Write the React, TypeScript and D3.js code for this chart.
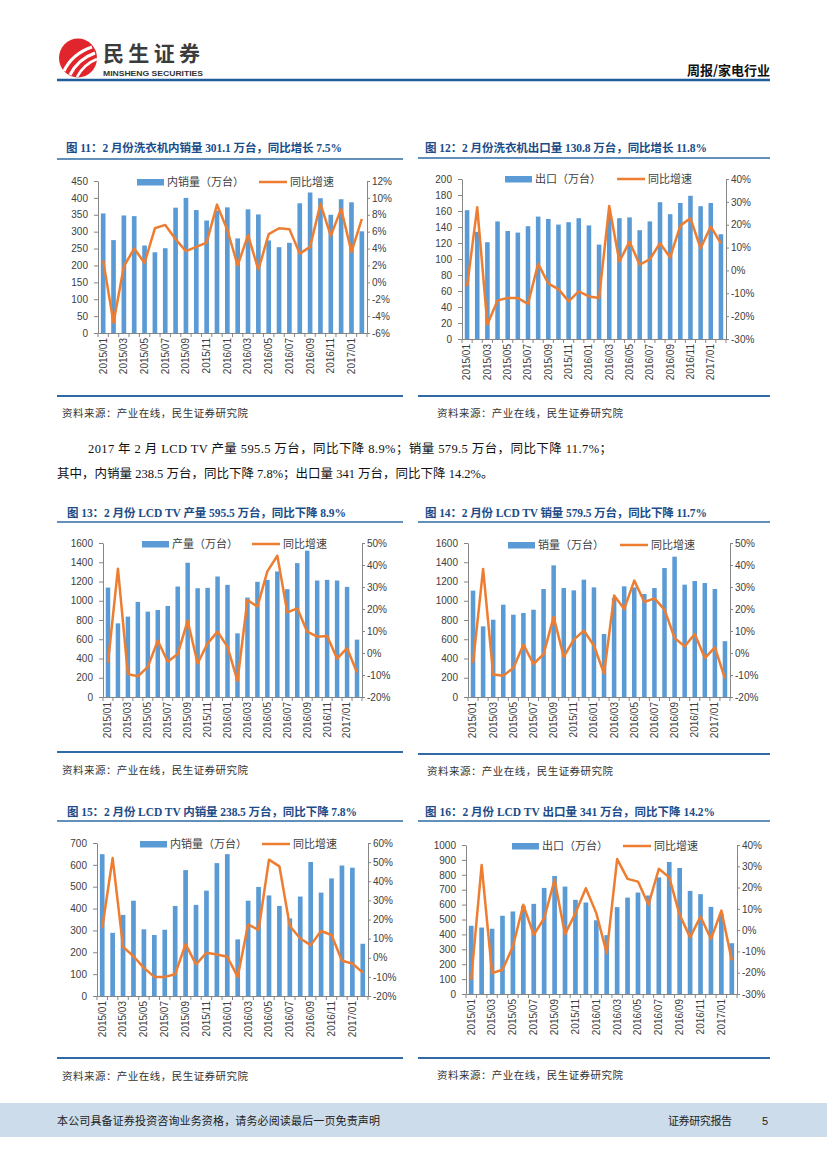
import { useEffect, useRef } from 'react';
import * as d3 from 'd3';

// 月份（2015/01 - 2017/02）
const months = [
  '2015/01', '2015/02', '2015/03', '2015/04', '2015/05', '2015/06',
  '2015/07', '2015/08', '2015/09', '2015/10', '2015/11', '2015/12',
  '2016/01', '2016/02', '2016/03', '2016/04', '2016/05', '2016/06',
  '2016/07', '2016/08', '2016/09', '2016/10', '2016/11', '2016/12',
  '2017/01', '2017/02',
];
const labeledMonths = months.filter((_, i) => i % 2 === 0);

// 图11 洗衣机内销量（万台）/ 同比（%）
const washerDomestic = [354, 275, 348, 346, 259, 239, 251, 371, 400, 364, 333, 363, 372, 280, 366, 351, 274, 254, 267, 384, 416, 399, 350, 396, 387, 301];
const washerDomesticYoY = [2.6, -4.8, 1.9, 4.0, 2.3, 6.4, 6.8, 5.1, 3.7, 4.2, 4.7, 9.2, 6.2, 2.0, 5.6, 1.5, 5.7, 6.4, 6.3, 3.4, 4.2, 9.3, 5.5, 8.7, 3.6, 7.5];

// 图12 洗衣机出口量
const washerExport = [161, 134, 121, 147, 135, 133, 141, 153, 150, 143, 146, 151, 142, 118, 155, 151, 152, 136, 147, 171, 156, 170, 179, 166, 170, 131];
const washerExportYoY = [-7.0, 27.6, -23.7, -13.1, -12.1, -12.1, -14.6, 2.9, -5.8, -8.2, -13.5, -9.2, -11.4, -12.1, 28.2, 3.9, 12.6, 2.5, 4.9, 11.9, 5.7, 19.6, 22.8, 9.7, 19.2, 11.8];

// 图13 LCD TV 产量
const tvOutput = [1137, 765, 835, 988, 887, 904, 946, 1148, 1395, 1130, 1134, 1252, 1165, 661, 1033, 1197, 1217, 1304, 1120, 1391, 1520, 1210, 1217, 1210, 1144, 596];
const tvOutputYoY = [-4.5, 38.3, -9.6, -10.6, -6.3, 5.6, -4.0, -0.5, 14.7, -4.8, 4.4, 9.7, 2.8, -12.7, 24.1, 21.1, 37.1, 44.2, 18.5, 20.3, 9.7, 7.4, 7.7, -2.6, 2.2, -8.9];

// 图14 LCD TV 销量
const tvSales = [1105, 734, 803, 959, 855, 873, 907, 1122, 1368, 1132, 1108, 1219, 1139, 655, 1029, 1150, 1139, 1070, 1132, 1340, 1458, 1167, 1205, 1184, 1122, 580];
const tvSalesYoY = [-4.5, 38.2, -9.8, -10.3, -6.8, 3.8, -5.0, -0.5, 16.4, -1.8, 6.1, 10.2, 3.3, -9.4, 26.1, 20.0, 32.9, 23.2, 24.8, 19.7, 6.8, 3.0, 8.6, -2.3, 2.6, -11.7];

// 图15 LCD TV 内销量
const tvDomestic = [649, 289, 371, 436, 305, 279, 303, 412, 576, 417, 482, 608, 649, 259, 436, 499, 460, 412, 355, 455, 613, 473, 538, 597, 587, 239];
const tvDomesticYoY = [15.4, 52.1, 5.7, 0.8, -5.3, -10.0, -10.0, -8.6, 7.1, -3.5, 2.6, 1.7, 0.5, -10.0, 17.5, 14.5, 51.3, 47.8, 16.6, 10.1, 6.6, 14.0, 11.9, -1.6, -3.0, -7.8];

// 图16 LCD TV 出口量
const tvExport = [458, 446, 438, 525, 554, 592, 605, 712, 792, 721, 632, 614, 495, 395, 583, 647, 681, 661, 783, 886, 846, 692, 670, 585, 540, 341];
const tvExportYoY = [-23.3, 30.6, -20.2, -18.6, -7.7, 11.9, -2.2, 5.6, 23.6, -1.9, 8.0, 19.7, 8.0, -10.8, 33.4, 24.1, 22.8, 11.9, 28.8, 24.8, 7.2, -3.4, 6.4, -4.2, 9.2, -14.2];

const lineName = '同比增速';
const sourceText = '资料来源：产业在线，民生证券研究院';

const BAR = '#5b9bd5';
const LINE = '#ed7d31';
const RULE = '#2f6aa5';
const TITLE = '#1c4c88';
const AXIS = '#868686';
const NUM_FONT = '"Liberation Sans", Arial, sans-serif';
const CJK_FONT = '"Noto Sans CJK SC", sans-serif';
const SERIF_FONT = '"Liberation Serif", "Noto Sans CJK SC", serif';

const charts = [
  {
    title: '图 11：2 月份洗衣机内销量 301.1 万台，同比增长 7.5%', titleX: 66, titleW: 276, titleY: 152, ruleY: 159,
    px0: 57, px1: 403, left: 98, right: 367, top: 181, bottom: 333,
    yMax: 450, yStep: 50, rMin: -6, rMax: 12, rStep: 2,
    barName: '内销量（万台）', bars: washerDomestic, yoy: washerDomesticYoY,
    legendY: 182, barKeyX: 137, lineKeyX: 259, footY: 396, sourceX: 62, sourceY: 417,
  },
  {
    title: '图 12：2 月份洗衣机出口量 130.8 万台，同比增长 11.8%', titleX: 425, titleW: 282, titleY: 152, ruleY: 158,
    px0: 418, px1: 770, left: 462, right: 726, top: 179, bottom: 339,
    yMax: 200, yStep: 20, rMin: -30, rMax: 40, rStep: 10,
    barName: '出口（万台）', bars: washerExport, yoy: washerExportYoY,
    legendY: 179, barKeyX: 505, lineKeyX: 617, footY: 396, sourceX: 437, sourceY: 417,
  },
  {
    title: '图 13：2 月份 LCD TV 产量 595.5 万台，同比下降 8.9%', titleX: 67, titleW: 279, titleY: 517, ruleY: 522,
    px0: 57, px1: 403, left: 103, right: 362, top: 543, bottom: 697,
    yMax: 1600, yStep: 200, rMin: -20, rMax: 50, rStep: 10,
    barName: '产量（万台）', bars: tvOutput, yoy: tvOutputYoY,
    legendY: 544, barKeyX: 142, lineKeyX: 252, footY: 752, sourceX: 62, sourceY: 774,
  },
  {
    title: '图 14：2 月份 LCD TV 销量 579.5 万台，同比下降 11.7%', titleX: 425, titleW: 282, titleY: 517, ruleY: 522,
    px0: 418, px1: 770, left: 468, right: 730, top: 543, bottom: 697,
    yMax: 1600, yStep: 200, rMin: -20, rMax: 50, rStep: 10,
    barName: '销量（万台）', bars: tvSales, yoy: tvSalesYoY,
    legendY: 545, barKeyX: 508, lineKeyX: 620, footY: 754, sourceX: 427, sourceY: 775,
  },
  {
    title: '图 15：2 月份 LCD TV 内销量 238.5 万台，同比下降 7.8%', titleX: 67, titleW: 290, titleY: 816, ruleY: 821,
    px0: 57, px1: 403, left: 97, right: 368, top: 843, bottom: 996,
    yMax: 700, yStep: 100, rMin: -20, rMax: 60, rStep: 10,
    barName: '内销量（万台）', bars: tvDomestic, yoy: tvDomesticYoY,
    legendY: 844, barKeyX: 140, lineKeyX: 262, footY: 1058, sourceX: 62, sourceY: 1080,
  },
  {
    title: '图 16：2 月份 LCD TV 出口量 341 万台，同比下降 14.2%', titleX: 425, titleW: 290, titleY: 816, ruleY: 821,
    px0: 418, px1: 770, left: 466, right: 737, top: 845, bottom: 994,
    yMax: 1000, yStep: 100, rMin: -30, rMax: 40, rStep: 10,
    barName: '出口（万台）', bars: tvExport, yoy: tvExportYoY,
    legendY: 846, barKeyX: 512, lineKeyX: 623, footY: 1058, sourceX: 437, sourceY: 1079,
  },
];

function styleAxis(g) {
  g.attr('font-family', NUM_FONT).attr('font-size', 10);
  g.selectAll('.domain').attr('stroke', AXIS);
  g.selectAll('.tick line').attr('stroke', AXIS);
  g.selectAll('.tick text').attr('fill', '#404040');
}

function drawChart(root, c) {
  const g = root.append('g');

  const x = d3.scaleBand()
    .domain(months)
    .range([c.left, c.right])
    .paddingInner(0.55)
    .paddingOuter(0.275);
  const y = d3.scaleLinear().domain([0, c.yMax]).range([c.bottom, c.top]);
  const r = d3.scaleLinear().domain([c.rMin, c.rMax]).range([c.bottom, c.top]);

  // title and rules
  g.append('text')
    .attr('x', c.titleX).attr('y', c.titleY)
    .attr('font-family', SERIF_FONT).attr('font-weight', 'bold').attr('font-size', 11.5)
    .attr('fill', TITLE)
    .attr('textLength', c.titleW).attr('lengthAdjust', 'spacing')
    .text(c.title);
  g.append('line')
    .attr('x1', c.px0).attr('x2', c.px1).attr('y1', c.ruleY).attr('y2', c.ruleY)
    .attr('stroke', RULE).attr('stroke-width', 1.3);
  g.append('line')
    .attr('x1', c.px0).attr('x2', c.px1).attr('y1', c.footY).attr('y2', c.footY)
    .attr('stroke', RULE).attr('stroke-width', 2);
  g.append('text')
    .attr('x', c.sourceX).attr('y', c.sourceY)
    .attr('font-family', CJK_FONT).attr('font-size', 10.5).attr('fill', '#333')
    .attr('textLength', 186).attr('lengthAdjust', 'spacing')
    .text(sourceText);

  // bars
  g.append('g').selectAll('rect')
    .data(c.bars)
    .join('rect')
    .attr('x', (d, i) => x(months[i]))
    .attr('y', d => y(d))
    .attr('width', x.bandwidth())
    .attr('height', d => y(0) - y(d))
    .attr('fill', BAR);

  // yoy line
  const line = d3.line()
    .x((d, i) => x(months[i]) + x.bandwidth() / 2)
    .y(d => r(d));
  g.append('path')
    .datum(c.yoy)
    .attr('d', line)
    .attr('fill', 'none')
    .attr('stroke', LINE)
    .attr('stroke-width', 2.5)
    .attr('stroke-linejoin', 'round');

  // axes
  g.append('g')
    .attr('transform', `translate(${c.left},0)`)
    .call(d3.axisLeft(y)
      .tickValues(d3.range(0, c.yMax + c.yStep / 2, c.yStep))
      .tickSize(4).tickSizeOuter(0).tickPadding(6)
      .tickFormat(d3.format('d')))
    .call(styleAxis);

  g.append('g')
    .attr('transform', `translate(${c.right},0)`)
    .call(d3.axisRight(r)
      .tickValues(d3.range(c.rMin, c.rMax + c.rStep / 2, c.rStep))
      .tickSize(3).tickSizeOuter(0).tickPadding(2)
      .tickFormat(d => `${d}%`))
    .call(styleAxis);

  const xAxis = g.append('g')
    .attr('transform', `translate(0,${c.bottom})`)
    .call(d3.axisBottom(x).tickValues(labeledMonths).tickSize(0).tickSizeOuter(0).tickPadding(0))
    .call(styleAxis);
  xAxis.selectAll('.tick text')
    .attr('transform', 'rotate(-90)')
    .attr('x', -5)
    .attr('y', 0)
    .attr('dy', '0.34em')
    .attr('text-anchor', 'end');

  // category boundary ticks
  g.append('g').selectAll('line')
    .data(d3.range(months.length + 1))
    .join('line')
    .attr('x1', i => c.left + i * x.step())
    .attr('x2', i => c.left + i * x.step())
    .attr('y1', c.bottom)
    .attr('y2', c.bottom + 4)
    .attr('stroke', AXIS);

  // legend
  const legend = g.append('g')
    .attr('font-family', CJK_FONT).attr('font-size', 11).attr('fill', '#404040');
  legend.append('rect')
    .attr('x', c.barKeyX).attr('y', c.legendY - 3)
    .attr('width', 27).attr('height', 6.5)
    .attr('fill', BAR);
  legend.append('text')
    .attr('x', c.barKeyX + 30).attr('y', c.legendY).attr('dy', '0.36em')
    .text(c.barName);
  legend.append('line')
    .attr('x1', c.lineKeyX).attr('x2', c.lineKeyX + 28)
    .attr('y1', c.legendY).attr('y2', c.legendY)
    .attr('stroke', LINE).attr('stroke-width', 2.5);
  legend.append('text')
    .attr('x', c.lineKeyX + 31).attr('y', c.legendY).attr('dy', '0.36em')
    .text(lineName);
}

const App = () => {
  const chartRef = useRef(null);
  const width = 827;
  const height = 1169;

  useEffect(() => {
    const root = d3.select(chartRef.current);
    root.selectAll('*').remove();
    charts.forEach(c => drawChart(root, c));
  }, []);

  return (
    <svg
      width={width}
      height={height}
      viewBox={`0 0 ${width} ${height}`}
      style={{ position: 'absolute', left: 0, top: 0, background: '#fff' }}
    >
      {/* header */}
      <ellipse cx={78} cy={58} rx={19} ry={19.5} fill="#e0262c" />
      <path d="M64 71 Q72 54 92 47" stroke="#fff" strokeWidth={3} fill="none" />
      <path d="M70 75 Q78 59 95 53" stroke="#fff" strokeWidth={3} fill="none" />
      <path d="M77 77 Q84 64 97 59" stroke="#fff" strokeWidth={2.6} fill="none" />
      <text x={103} y={61} fontFamily={CJK_FONT} fontWeight="bold" fontSize={21} fill="#3b3b3b"
        textLength={97} lengthAdjust="spacing">民生证券</text>
      <text x={103} y={76} fontFamily={NUM_FONT} fontWeight="bold" fontSize={7.5} fill="#333"
        textLength={100} lengthAdjust="spacingAndGlyphs">MINSHENG SECURITIES</text>
      <text x={770} y={75} fontFamily={CJK_FONT} fontWeight="bold" fontSize={13} fill="#111"
        textAnchor="end">周报/家电行业</text>
      <line x1={57} x2={770} y1={80} y2={80} stroke="#1f5c99" strokeWidth={2.5} />

      {/* body text */}
      <text x={88} y={453} fontFamily={SERIF_FONT} fontSize={12.5} fill="#111"
        textLength={524} lengthAdjust="spacing">
        2017 年 2 月 LCD TV 产量 595.5 万台，同比下降 8.9%；销量 579.5 万台，同比下降 11.7%；
      </text>
      <text x={57} y={478} fontFamily={SERIF_FONT} fontSize={12.5} fill="#111">
        其中，内销量 238.5 万台，同比下降 7.8%；出口量 341 万台，同比下降 14.2%。
      </text>

      <g ref={chartRef} />

      {/* footer */}
      <rect x={0} y={1103} width={width} height={34} fill="#ccdcea" />
      <text x={57} y={1125} fontFamily={CJK_FONT} fontSize={11} fill="#222"
        textLength={323} lengthAdjust="spacing">本公司具备证券投资咨询业务资格，请务必阅读最后一页免责声明</text>
      <text x={668} y={1125} fontFamily={CJK_FONT} fontSize={11} fill="#222"
        textLength={64} lengthAdjust="spacing">证券研究报告</text>
      <text x={762} y={1125} fontFamily={NUM_FONT} fontSize={11} fill="#222">5</text>
    </svg>
  );
};

export default App;
